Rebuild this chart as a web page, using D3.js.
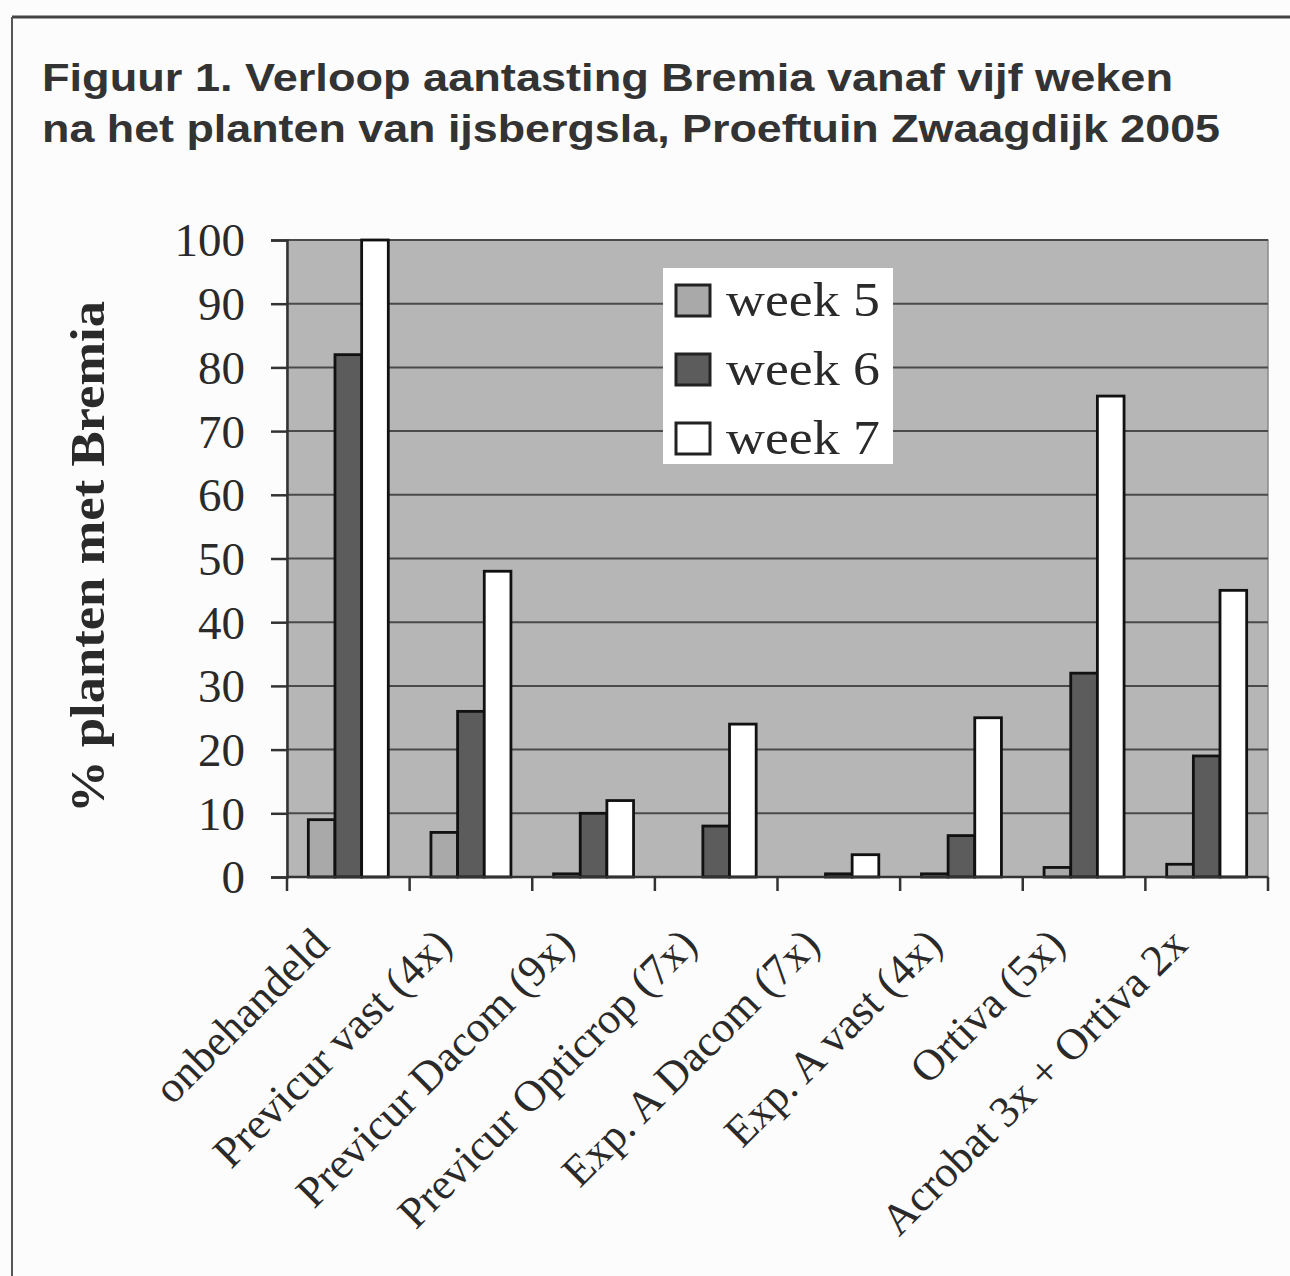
<!DOCTYPE html>
<html>
<head>
<meta charset="utf-8">
<script src="https://cdn.jsdelivr.net/npm/d3@7"></script>
<style>
  html, body { margin: 0; padding: 0; background: #fcfcfc; }
  svg { display: block; }
</style>
</head>
<body>
<svg id="chart" width="1290" height="1276"></svg>
<script>
const categories = ["onbehandeld", "Previcur vast (4x)", "Previcur Dacom (9x)", "Previcur Opticrop (7x)",
                    "Exp. A Dacom (7x)", "Exp. A vast (4x)", "Ortiva (5x)", "Acrobat 3x + Ortiva 2x"];
const seriesNames = ["week 5", "week 6", "week 7"];
const week5 = [9, 7, 0.5, 0, 0, 0.5, 1.5, 2];
const week6 = [82, 26, 10, 8, 0.5, 6.5, 32, 19];
const week7 = [100, 48, 12, 24, 3.5, 25, 75.5, 45];
const yTicks = [0, 10, 20, 30, 40, 50, 60, 70, 80, 90, 100];
const titleLines = ["Figuur 1. Verloop aantasting Bremia vanaf vijf weken",
                    "na het planten van ijsbergsla, Proeftuin Zwaagdijk 2005"];
const yTitle = "% planten met Bremia";

const seriesValues = [week5, week6, week7];
const fills = ["#a9a9a9", "#5c5c5c", "#ffffff"];
const serif = "'Liberation Serif', 'Times New Roman', serif";

const svg = d3.select("#chart");

// frame
svg.append("line").attr("x1", 12).attr("x2", 1290).attr("y1", 17).attr("y2", 17)
  .attr("stroke", "#444").attr("stroke-width", 3);
svg.append("line").attr("x1", 12).attr("x2", 12).attr("y1", 17).attr("y2", 1276)
  .attr("stroke", "#555").attr("stroke-width", 2);

// title
const titleWidths = [1131, 1178];
svg.append("g").selectAll("text").data(titleLines).join("text")
  .attr("x", 42).attr("y", (d, i) => 91 + i * 51)
  .attr("font-family", "'Liberation Sans', Arial, sans-serif")
  .attr("font-weight", "bold").attr("font-size", 38)
  .attr("fill", "#333")
  .attr("textLength", (d, i) => titleWidths[i]).attr("lengthAdjust", "spacingAndGlyphs")
  .text(d => d);

const pLeft = 287, pRight = 1268, pTop = 240, pBottom = 877;

const x0 = d3.scaleBand().domain(categories).range([pLeft, pRight]).padding(0);
const x1 = d3.scaleBand().domain(seriesNames).range([0, x0.bandwidth()]).paddingInner(0).paddingOuter(0.8);
const y = d3.scaleLinear().domain([0, 100]).range([pBottom, pTop]);

// plot background
svg.append("rect").attr("x", pLeft).attr("y", pTop).attr("width", pRight - pLeft).attr("height", pBottom - pTop)
  .attr("fill", "#b6b6b6").attr("stroke", "#8a8a8a").attr("stroke-width", 1.5);

// gridlines
svg.append("g").selectAll("line").data(yTicks.filter(d => d > 0)).join("line")
  .attr("x1", pLeft).attr("x2", pRight)
  .attr("y1", d => y(d)).attr("y2", d => y(d))
  .attr("stroke", "#4a4a4a").attr("stroke-width", 2);

// bars
const groups = svg.append("g").selectAll("g").data(categories).join("g")
  .attr("transform", d => `translate(${x0(d)},0)`);
groups.selectAll("rect")
  .data((c, ci) => seriesNames.map((s, si) => ({ s, si, v: seriesValues[si][ci] })).filter(d => d.v > 0))
  .join("rect")
  .attr("x", d => x1(d.s))
  .attr("y", d => y(d.v))
  .attr("width", x1.bandwidth())
  .attr("height", d => y(0) - y(d.v))
  .attr("fill", d => fills[d.si])
  .attr("stroke", "#111").attr("stroke-width", 2.8);

// y axis
const yAxis = d3.axisLeft(y).tickValues(yTicks).tickSize(16).tickPadding(26).tickFormat(d3.format("d"));
const yg = svg.append("g").attr("transform", `translate(${pLeft},0)`).call(yAxis);
yg.select(".domain").attr("stroke", "#333").attr("stroke-width", 2.5);
yg.selectAll(".tick line").attr("stroke", "#333").attr("stroke-width", 2.5);
yg.selectAll(".tick text").attr("font-family", serif).attr("font-size", 47).attr("fill", "#2a2a2a")
  .attr("dy", "0.34em");

// x axis with ticks at category boundaries
const xg = svg.append("g").attr("transform", `translate(0,${pBottom})`);
xg.append("line").attr("x1", pLeft).attr("x2", pRight).attr("y1", 0).attr("y2", 0)
  .attr("stroke", "#333").attr("stroke-width", 2.5);
xg.selectAll("line.tk").data(categories.map(c => x0(c)).concat([pRight])).join("line")
  .attr("class", "tk")
  .attr("x1", d => d).attr("x2", d => d).attr("y1", 0).attr("y2", 14)
  .attr("stroke", "#333").attr("stroke-width", 2.5);
xg.selectAll("text").data(categories).join("text")
  .attr("transform", d => `translate(${x0(d) + x0.bandwidth() / 2 - 17},${70}) rotate(-45)`)
  .attr("text-anchor", "end")
  .attr("font-family", serif).attr("font-size", 44).attr("fill", "#2a2a2a")
  .text(d => d);

// y title
svg.append("text")
  .attr("transform", `translate(104,557) rotate(-90)`)
  .attr("text-anchor", "middle")
  .attr("font-family", serif).attr("font-weight", "bold").attr("font-size", 48)
  .attr("fill", "#2a2a2a")
  .attr("textLength", 512).attr("lengthAdjust", "spacingAndGlyphs")
  .text(yTitle);

// legend
const lg = svg.append("g");
lg.append("rect").attr("x", 663).attr("y", 268).attr("width", 230).attr("height", 196).attr("fill", "#ffffff");
const items = lg.selectAll("g").data(seriesNames).join("g")
  .attr("transform", (d, i) => `translate(0,${i * 69})`);
items.append("rect").attr("x", 676).attr("y", 285).attr("width", 34).attr("height", 31)
  .attr("fill", (d, i) => fills[i]).attr("stroke", "#222").attr("stroke-width", 3);
items.append("text").attr("x", 726).attr("y", 316)
  .attr("font-family", serif).attr("font-size", 48).attr("fill", "#2a2a2a")
  .attr("textLength", 154).attr("lengthAdjust", "spacingAndGlyphs")
  .text(d => d);
</script>
</body>
</html>
